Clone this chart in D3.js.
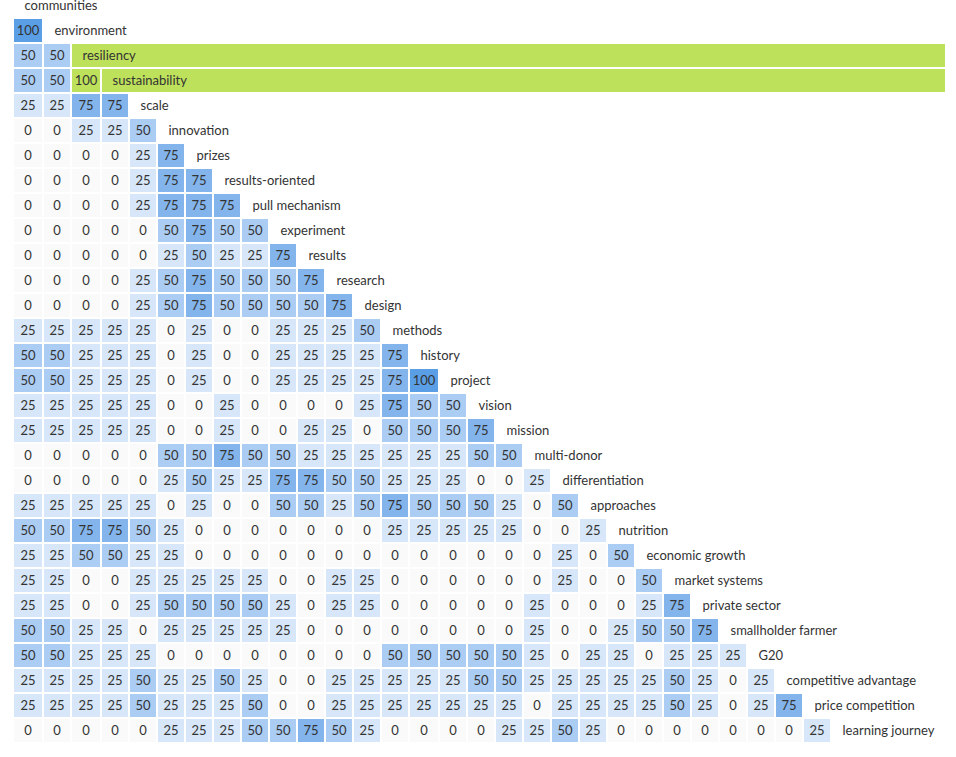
<!DOCTYPE html>
<html>
<head>
<meta charset="utf-8">
<script src="https://cdn.jsdelivr.net/npm/d3@7"></script>
<style>
  html, body { margin: 0; padding: 0; background: #fff; }
  svg { display: block; }
  text { font-family: Lato, "Open Sans", sans-serif; font-size: 13px; fill: #333; }
</style>
</head>
<body>
<svg id="chart" width="956" height="757"></svg>
<script>
const terms = ["communities","environment","resiliency","sustainability","scale","innovation","prizes",
  "results-oriented","pull mechanism","experiment","results","research","design","methods","history",
  "project","vision","mission","multi-donor","differentiation","approaches","nutrition","economic growth",
  "market systems","private sector","smallholder farmer","G20","competitive advantage","price competition",
  "learning journey"];

const rows = [
  [],
  [100],
  [50,50],
  [50,50,100],
  [25,25,75,75],
  [0,0,25,25,50],
  [0,0,0,0,25,75],
  [0,0,0,0,25,75,75],
  [0,0,0,0,25,75,75,75],
  [0,0,0,0,0,50,75,50,50],
  [0,0,0,0,0,25,50,25,25,75],
  [0,0,0,0,25,50,75,50,50,50,75],
  [0,0,0,0,25,50,75,50,50,50,50,75],
  [25,25,25,25,25,0,25,0,0,25,25,25,50],
  [50,50,25,25,25,0,25,0,0,25,25,25,25,75],
  [50,50,25,25,25,0,25,0,0,25,25,25,25,75,100],
  [25,25,25,25,25,0,0,25,0,0,0,0,25,75,50,50],
  [25,25,25,25,25,0,0,25,0,0,25,25,0,50,50,50,75],
  [0,0,0,0,0,50,50,75,50,50,25,25,25,25,25,25,50,50],
  [0,0,0,0,0,25,50,25,25,75,75,50,50,25,25,25,0,0,25],
  [25,25,25,25,25,0,25,0,0,50,50,25,50,75,50,50,50,25,0,50],
  [50,50,75,75,50,25,0,0,0,0,0,0,0,25,25,25,25,25,0,0,25],
  [25,25,50,50,25,25,0,0,0,0,0,0,0,0,0,0,0,0,0,25,0,50],
  [25,25,0,0,25,25,25,25,25,0,0,25,25,0,0,0,0,0,0,25,0,0,50],
  [25,25,0,0,25,50,50,50,50,25,0,25,25,0,0,0,0,0,25,0,0,0,25,75],
  [50,50,25,25,0,25,25,25,25,25,0,0,0,0,0,0,0,0,25,0,0,25,50,50,75],
  [50,50,25,25,25,0,0,0,0,0,0,0,0,50,50,50,50,50,25,0,25,25,0,25,25,25],
  [25,25,25,25,50,25,25,50,25,0,0,25,25,25,25,25,50,50,25,25,25,25,25,50,25,0,25],
  [25,25,25,25,50,25,25,25,50,0,0,25,25,25,25,25,25,25,0,25,25,25,25,50,25,0,25,75],
  [0,0,0,0,0,25,25,25,50,50,75,50,25,0,0,0,0,25,25,50,25,0,0,0,0,0,0,0,25]
];

const selected = ["resiliency","sustainability"];
const valueLevels = [0,25,50,75,100];
const levelColors = ["#fafafa","#d7e7f9","#abcdf3","#83b5ec","#5a9fe6"];
const highlightColor = "#bee15b";

const svg = d3.select("#chart");

// Table-like column widths: columns holding a 3-digit value are a little wider
const colStep = terms.map((t, j) => (d3.max(rows, r => r[j] === undefined ? -1 : r[j]) >= 100 ? 30 : 28));
const colStart = Array.from(d3.cumsum([14, ...colStep])).slice(0, terms.length);
const x = d3.scaleOrdinal().domain(terms).range(colStart);
const cw = d3.scaleOrdinal().domain(terms).range(colStep.map(s => s - 2));

const y = d3.scaleBand().domain(terms).range([-6, 742]).paddingInner(0.08).paddingOuter(0);
const color = d3.scaleOrdinal().domain(valueLevels).range(levelColors);

const cells = [];
rows.forEach((vals, i) => {
  vals.forEach((v, j) => cells.push({row: terms[i], col: terms[j], value: v}));
});

const isSel = t => selected.includes(t);

svg.append("g").selectAll("rect")
  .data(terms.filter(isSel))
  .join("rect")
  .attr("x", d => x(d))
  .attr("y", d => y(d))
  .attr("width", d => 945 - x(d))
  .attr("height", y.bandwidth())
  .attr("fill", highlightColor);

const g = svg.append("g").selectAll("g")
  .data(cells)
  .join("g")
  .attr("transform", d => `translate(${x(d.col)},${y(d.row)})`);

g.append("rect")
  .attr("width", d => cw(d.col))
  .attr("height", y.bandwidth())
  .attr("fill", d => (isSel(d.row) && isSel(d.col)) ? highlightColor : color(d.value));

g.append("text")
  .attr("x", d => cw(d.col) / 2)
  .attr("y", y.bandwidth() / 2)
  .attr("dy", "0.35em")
  .attr("text-anchor", "middle")
  .text(d => d.value);

svg.append("g").selectAll("text")
  .data(terms)
  .join("text")
  .attr("x", d => x(d) + 10.5)
  .attr("y", d => y(d) + y.bandwidth() / 2)
  .attr("dy", "0.35em")
  .text(d => d);
</script>
</body>
</html>
